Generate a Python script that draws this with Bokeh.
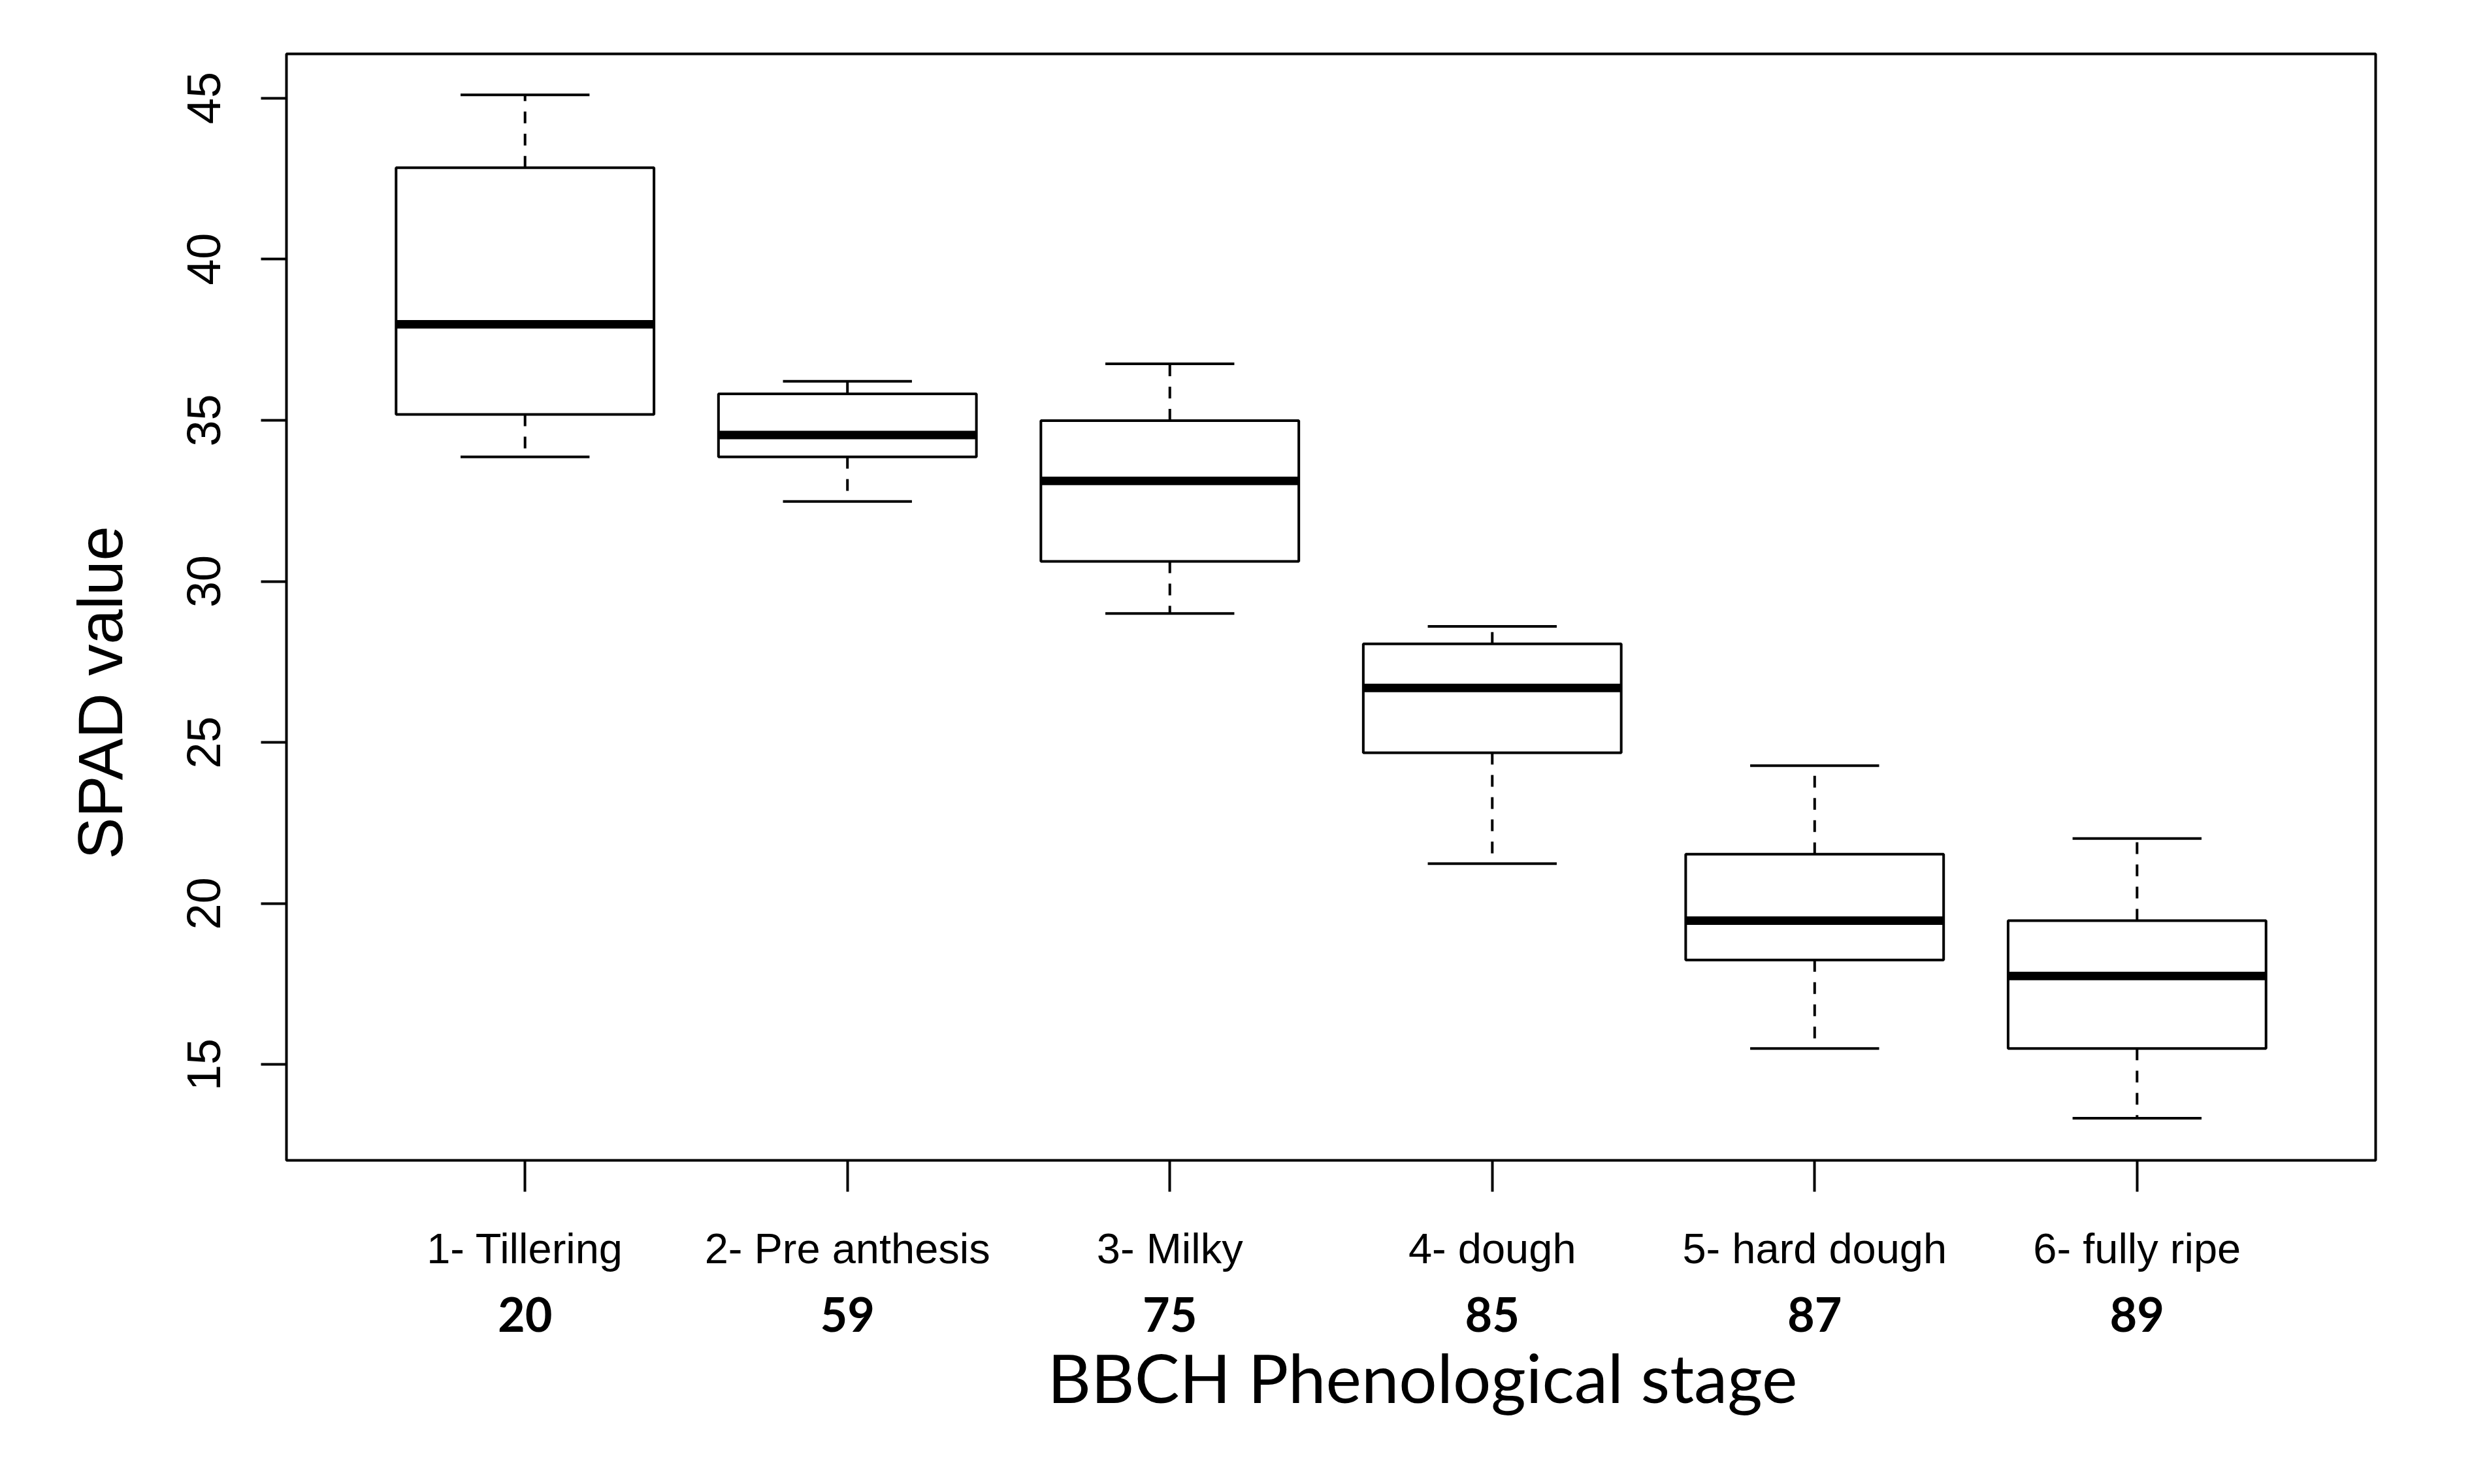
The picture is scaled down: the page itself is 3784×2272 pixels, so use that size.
from bokeh.plotting import figure
from bokeh.models import FixedTicker, Range1d, ColumnDataSource, LinearAxis, Title
from bokeh.embed import file_html
from bokeh.resources import INLINE

# ---- data ----
stages = ["1- Tillering", "2- Pre anthesis", "3- Milky", "4- dough", "5- hard dough", "6- fully ripe"]
bbch = ["20", "59", "75", "85", "87", "89"]
whisker_low = [33.86, 32.48, 29.00, 21.24, 15.50, 13.34]
q1 = [35.18, 33.86, 30.62, 24.68, 18.25, 15.50]
median = [37.98, 34.54, 33.12, 26.69, 19.47, 17.75]
q3 = [42.84, 35.82, 34.99, 28.06, 21.53, 19.47]
whisker_high = [45.10, 36.21, 36.75, 28.60, 24.28, 22.02]
y_ticks = [15, 20, 25, 30, 35, 40, 45]

pos = list(range(1, len(stages) + 1))
box_half = 0.4
cap_half = 0.2

src = ColumnDataSource(dict(
    x=pos,
    left=[x - box_half for x in pos],
    right=[x + box_half for x in pos],
    cap_l=[x - cap_half for x in pos],
    cap_r=[x + cap_half for x in pos],
    lo=whisker_low, q1=q1, med=median, q3=q3, hi=whisker_high,
))

p = figure(width=3768, height=2256,
           x_range=Range1d(0.26, 6.74), y_range=Range1d(12.03, 46.37),
           output_backend="svg", toolbar_location=None,
           min_border_left=438, min_border_right=132,
           min_border_top=82, min_border_bottom=480)
p.background_fill_color = "white"
p.border_fill_color = "white"
p.xgrid.visible = False
p.ygrid.visible = False
p.outline_line_color = "black"
p.outline_line_width = 4

# whiskers (dashed) and caps
p.segment(x0="x", x1="x", y0="q3", y1="hi", source=src, line_color="black",
          line_width=4, line_dash="18 16")
p.segment(x0="x", x1="x", y0="q1", y1="lo", source=src, line_color="black",
          line_width=4, line_dash="18 16")
p.segment(x0="cap_l", x1="cap_r", y0="hi", y1="hi", source=src, line_color="black", line_width=4)
p.segment(x0="cap_l", x1="cap_r", y0="lo", y1="lo", source=src, line_color="black", line_width=4)
# boxes
p.quad(left="left", right="right", bottom="q1", top="q3", source=src,
       fill_color="white", line_color="black", line_width=4)
# medians
p.segment(x0="left", x1="right", y0="med", y1="med", source=src,
          line_color="black", line_width=13, line_cap="butt")

# x axis: stage names
xa = p.xaxis[0]
xa.ticker = FixedTicker(ticks=pos)
xa.major_label_overrides = {x: s for x, s in zip(pos, stages)}
xa.axis_line_color = None
xa.minor_tick_line_color = None
xa.major_tick_line_color = "black"
xa.major_tick_line_width = 4
xa.major_tick_out = 48
xa.major_tick_in = 0
xa.major_label_standoff = 50
xa.major_label_text_font = "Liberation Sans"
xa.major_label_text_font_size = "65px"
xa.major_label_text_color = "black"

# second x axis: BBCH codes
xb = LinearAxis(ticker=FixedTicker(ticks=pos),
                major_label_overrides={x: s for x, s in zip(pos, bbch)})
xb.axis_line_color = None
xb.minor_tick_line_color = None
xb.major_tick_line_color = None
xb.major_tick_out = 0
xb.major_tick_in = 0
xb.major_label_standoff = 35
xb.major_label_text_font = "Lato"
xb.major_label_text_font_style = "bold"
xb.major_label_text_font_size = "72px"
xb.major_label_text_color = "black"
p.add_layout(xb, "below")

# x title
p.add_layout(Title(text="BBCH Phenological stage", align="left", offset=1165,
                   text_font="Lato", text_font_style="normal",
                   text_font_size="103px", text_color="black", standoff=5), "below")

# y axis
ya = p.yaxis[0]
ya.ticker = FixedTicker(ticks=y_ticks)
ya.axis_line_color = None
ya.minor_tick_line_color = None
ya.major_tick_line_color = "black"
ya.major_tick_line_width = 4
ya.major_tick_out = 39
ya.major_tick_in = 0
ya.major_label_orientation = "vertical"
ya.major_label_standoff = 62
ya.major_label_text_font = "Liberation Sans"
ya.major_label_text_font_size = "72px"
ya.major_label_text_color = "black"

# y title
p.add_layout(Title(text="SPAD value", align="left", offset=461,
                   text_font="Liberation Sans", text_font_style="normal",
                   text_font_size="96px", text_color="black", standoff=156), "left")

open("out.html", "w").write(file_html(p, INLINE))
